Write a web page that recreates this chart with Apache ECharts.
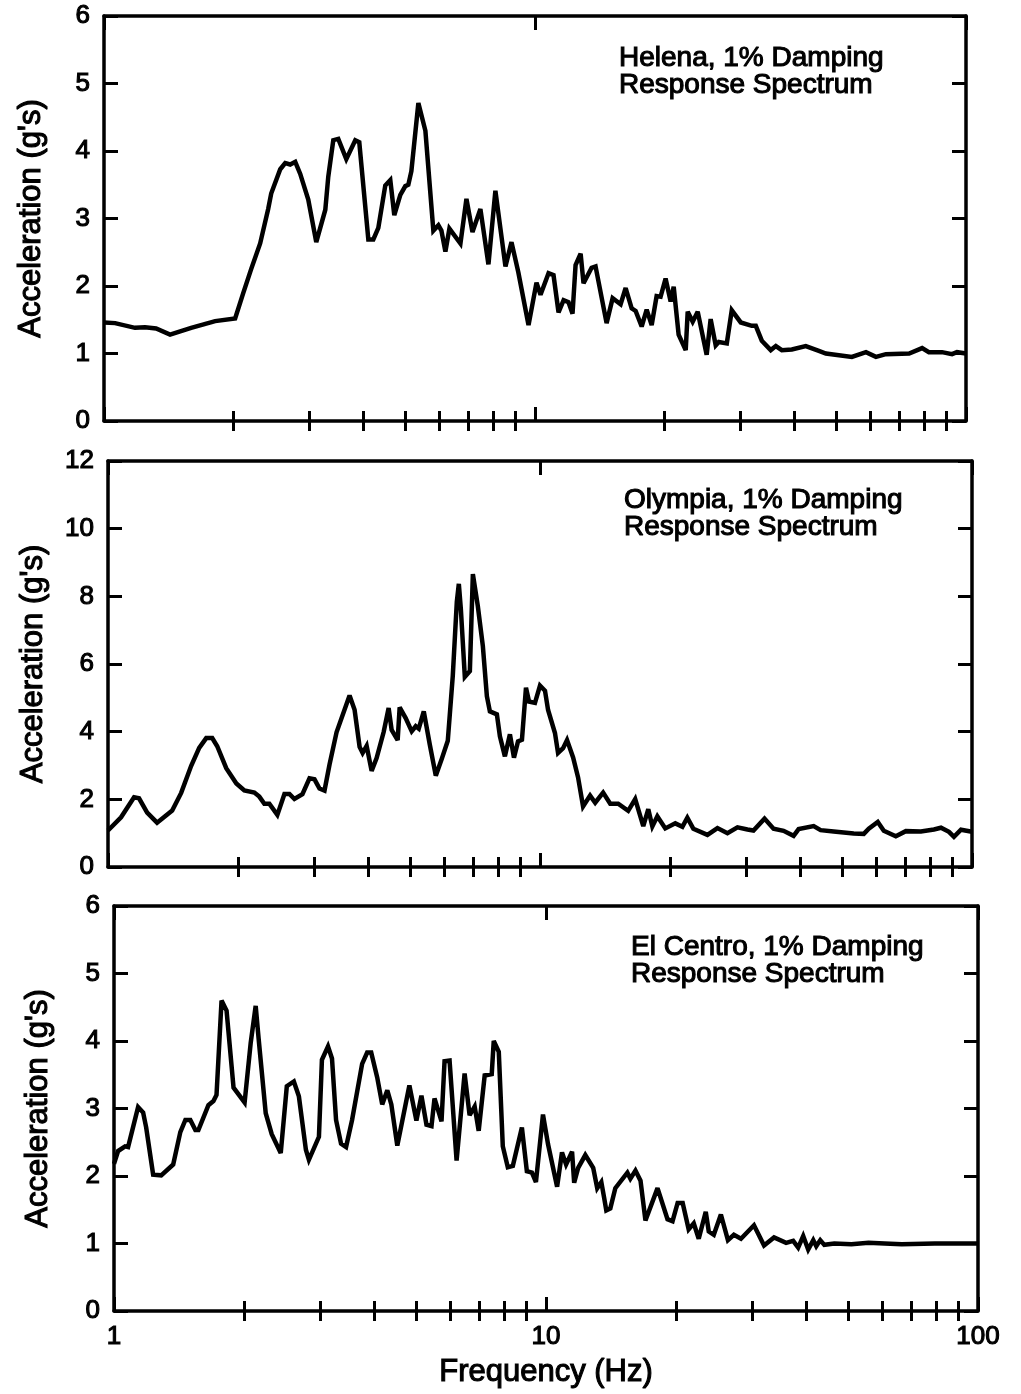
<!DOCTYPE html>
<html>
<head>
<meta charset="utf-8">
<script src="https://cdn.jsdelivr.net/npm/echarts@6/dist/echarts.min.js"></script>
<style>
  html, body { margin: 0; padding: 0; background: #fff; }
  #chart { width: 1021px; height: 1394px; }
</style>
</head>
<body>
<div id="chart"></div>
<script>
// Helena, 1% damping response spectrum: frequency (Hz) and spectral acceleration (g)
const helenaFreq = [1.0, 1.061, 1.18, 1.245, 1.321, 1.423, 1.593, 1.811, 2.015, 2.103,
  2.195, 2.303, 2.404, 2.443, 2.564, 2.633, 2.704, 2.778, 2.853, 2.978,
  3.108, 3.262, 3.314, 3.404, 3.496, 3.649, 3.828, 3.911, 4.105, 4.216,
  4.33, 4.494, 4.616, 4.716, 4.87, 5.002, 5.083, 5.166, 5.363, 5.568,
  5.81, 5.968, 6.065, 6.196, 6.33, 6.714, 6.933, 7.16, 7.47, 7.798,
  8.093, 8.54, 8.82, 9.15, 9.66, 10.08, 10.3, 10.75, 11.04, 11.34,
  11.65, 11.96, 12.22, 12.42, 12.76, 12.96, 13.53, 13.82, 14.66, 15.14,
  15.8, 16.23, 16.76, 17.12, 17.68, 18.16, 18.65, 19.15, 19.56, 20.09,
  20.64, 20.98, 21.54, 22.37, 22.61, 23.22, 23.85, 25.02, 25.56, 26.26,
  26.69, 27.86, 28.61, 30.02, 31.84, 32.53, 33.59, 35.24, 36.21, 37.38,
  39.43, 42.49, 45.56, 47.3, 54.35, 58.6, 61.8, 65.2, 73.8, 79.1,
  82.0, 88.0, 92.8, 95.3, 100];
const helenaAcc = [1.46, 1.45, 1.38, 1.39, 1.37, 1.28, 1.38, 1.48, 1.52, 1.89,
  2.25, 2.63, 3.14, 3.37, 3.73, 3.82, 3.80, 3.84, 3.66, 3.28,
  2.65, 3.13, 3.62, 4.16, 4.18, 3.88, 4.16, 4.13, 2.69, 2.69,
  2.86, 3.49, 3.57, 3.05, 3.35, 3.48, 3.50, 3.70, 4.71, 4.30,
  2.82, 2.90, 2.82, 2.51, 2.85, 2.63, 3.29, 2.80, 3.14, 2.32,
  3.41, 2.29, 2.65, 2.20, 1.42, 2.05, 1.87, 2.19, 2.16, 1.61,
  1.79, 1.76, 1.59, 2.31, 2.48, 2.04, 2.27, 2.29, 1.45, 1.82,
  1.73, 1.97, 1.67, 1.63, 1.40, 1.65, 1.42, 1.85, 1.84, 2.11,
  1.77, 1.99, 1.28, 1.05, 1.62, 1.47, 1.62, 0.98, 1.51, 1.12,
  1.17, 1.15, 1.64, 1.46, 1.41, 1.41, 1.19, 1.05, 1.11, 1.05,
  1.06, 1.11, 1.04, 1.00, 0.95, 1.02, 0.95, 0.99, 1.00, 1.08,
  1.02, 1.02, 0.99, 1.02, 1.00];

// Olympia, 1% damping response spectrum
const olympiaFreq = [1.0, 1.072, 1.149, 1.18, 1.232, 1.299, 1.408, 1.477, 1.558, 1.626,
  1.688, 1.743, 1.79, 1.878, 1.982, 2.068, 2.182, 2.24, 2.301, 2.363,
  2.466, 2.561, 2.63, 2.701, 2.819, 2.927, 3.006, 3.087, 3.171, 3.257,
  3.381, 3.624, 3.722, 3.823, 3.885, 3.969, 4.076, 4.186, 4.346, 4.463,
  4.535, 4.683, 4.733, 4.887, 5.047, 5.156, 5.24, 5.382, 5.557, 5.738,
  5.925, 6.117, 6.282, 6.419, 6.488, 6.558, 6.699, 6.881, 6.992, 7.179,
  7.374, 7.534, 7.656, 7.947, 8.076, 8.294, 8.519, 8.704, 8.894, 9.083,
  9.28, 9.431, 9.736, 10.0, 10.27, 10.44, 10.83, 11.01, 11.31, 11.55,
  11.93, 12.25, 12.58, 13.06, 13.42, 14.0, 14.54, 15.17, 16.0, 16.61,
  17.34, 17.81, 18.2, 18.69, 19.5, 20.57, 21.36, 21.93, 22.65, 24.41,
  25.75, 27.16, 28.65, 30.22, 31.2, 33.09, 34.72, 36.63, 38.64, 39.69,
  43.0, 44.63, 47.84, 53.23, 56.17, 57.68, 60.52, 62.49, 66.63, 70.29,
  76.16, 81.63, 84.75, 88.45, 90.84, 94.3, 100];
const olympiaAcc = [1.08, 1.47, 2.06, 2.03, 1.61, 1.31, 1.67, 2.19, 2.99, 3.52,
  3.81, 3.81, 3.57, 2.92, 2.47, 2.26, 2.20, 2.08, 1.87, 1.87,
  1.54, 2.16, 2.16, 2.01, 2.15, 2.62, 2.59, 2.32, 2.26, 3.03,
  3.98, 5.07, 4.65, 3.55, 3.37, 3.58, 2.84, 3.22, 3.99, 4.70,
  4.05, 3.75, 4.72, 4.40, 4.01, 4.16, 4.09, 4.60, 3.62, 2.70,
  3.20, 3.73, 5.65, 7.84, 8.37, 7.63, 5.62, 5.79, 8.66, 7.71,
  6.53, 5.05, 4.60, 4.51, 3.86, 3.27, 3.92, 3.23, 3.71, 3.76,
  5.30, 4.89, 4.85, 5.36, 5.21, 4.64, 3.96, 3.37, 3.51, 3.75,
  3.24, 2.65, 1.79, 2.11, 1.90, 2.20, 1.87, 1.87, 1.66, 2.01,
  1.21, 1.71, 1.20, 1.50, 1.14, 1.29, 1.19, 1.46, 1.13, 0.95,
  1.15, 1.00, 1.17, 1.11, 1.08, 1.43, 1.13, 1.07, 0.92, 1.12,
  1.21, 1.09, 1.05, 0.99, 0.98, 1.13, 1.33, 1.07, 0.91, 1.06,
  1.05, 1.11, 1.16, 1.04, 0.89, 1.10, 1.04];

// El Centro, 1% damping response spectrum
const elCentroFreq = [1.0, 1.022, 1.061, 1.078, 1.137, 1.168, 1.187, 1.232, 1.286, 1.371,
  1.424, 1.463, 1.502, 1.543, 1.568, 1.654, 1.699, 1.727, 1.774, 1.822,
  1.891, 2.006, 2.072, 2.128, 2.162, 2.245, 2.318, 2.432, 2.512, 2.608,
  2.679, 2.781, 2.826, 2.981, 3.029, 3.129, 3.196, 3.266, 3.354, 3.445,
  3.557, 3.753, 3.855, 3.939, 4.067, 4.177, 4.292, 4.385, 4.527, 4.828,
  5.012, 5.148, 5.288, 5.432, 5.52, 5.73, 5.823, 5.981, 6.209, 6.48,
  6.656, 6.837, 6.986, 7.212, 7.488, 7.569, 7.775, 7.943, 8.158, 8.38,
  8.794, 9.03, 9.278, 9.478, 9.84, 10.11, 10.61, 10.89, 11.13, 11.49,
  11.62, 11.87, 12.33, 12.86, 13.14, 13.43, 13.64, 13.79, 14.09, 14.47,
  15.43, 15.68, 16.11, 16.55, 16.99, 18.12, 19.11, 19.63, 20.17, 20.72,
  21.39, 21.98, 22.57, 23.43, 23.81, 24.46, 25.4, 26.37, 27.22, 28.27,
  30.3, 31.97, 33.72, 35.96, 37.34, 38.35, 39.39, 40.45, 41.56, 42.23,
  43.14, 44.08, 46.5, 50.93, 55.79, 60.76, 66.58, 79.43, 100];
const elCentroAcc = [2.18, 2.37, 2.44, 2.43, 3.02, 2.94, 2.72, 2.02, 2.01, 2.17,
  2.65, 2.83, 2.83, 2.68, 2.68, 3.05, 3.11, 3.20, 4.60, 4.45,
  3.31, 3.09, 3.97, 4.52, 4.03, 2.93, 2.62, 2.34, 3.33, 3.40,
  3.18, 2.39, 2.24, 2.58, 3.72, 3.92, 3.74, 2.83, 2.48, 2.43,
  2.83, 3.66, 3.83, 3.83, 3.46, 3.06, 3.27, 3.06, 2.45, 3.34,
  2.82, 3.19, 2.76, 2.74, 3.15, 2.81, 3.70, 3.71, 2.23, 3.52,
  2.90, 3.03, 2.67, 3.49, 3.51, 4.00, 3.84, 2.44, 2.13, 2.15,
  2.72, 2.07, 2.05, 1.91, 2.91, 2.47, 1.84, 2.35, 2.17, 2.36,
  1.90, 2.12, 2.31, 2.12, 1.82, 1.91, 1.67, 1.49, 1.52, 1.82,
  2.05, 1.96, 2.08, 1.93, 1.34, 1.82, 1.36, 1.33, 1.60, 1.60,
  1.21, 1.30, 1.07, 1.47, 1.18, 1.13, 1.43, 1.05, 1.13, 1.07,
  1.27, 0.97, 1.09, 1.01, 1.04, 0.94, 1.11, 0.91, 1.05, 0.96,
  1.05, 0.98, 1.00, 0.99, 1.01, 1.00, 0.99, 1.00, 1.00];

// Axis ticks and labels
const freqMajorTicks = [1, 10, 100];
const freqMinorTicks = [2, 3, 4, 5, 6, 7, 8, 9, 20, 30, 40, 50, 60, 70, 80, 90];
const accMax = [6, 12, 6];
const accStep = [1, 2, 1];
const panelLabels = [
  'Helena, 1% Damping\nResponse Spectrum',
  'Olympia, 1% Damping\nResponse Spectrum',
  'El Centro, 1% Damping\nResponse Spectrum'
];
const yName = "Acceleration (g's)";
const xName = 'Frequency (Hz)';

const spectra = [
  [helenaFreq, helenaAcc],
  [olympiaFreq, olympiaAcc],
  [elCentroFreq, elCentroAcc]
];

// Layout of the three stacked panels
const FONT = '"Liberation Sans", Arial, Helvetica, sans-serif';
const INK = '#000';
const panels = [
  { left: 104, top: 16, width: 862, height: 405, nameGap: 57, labelLeft: 619, labelTop: 45 },
  { left: 108, top: 461, width: 864, height: 406, nameGap: 59, labelLeft: 624, labelTop: 487 },
  { left: 114, top: 906, width: 864, height: 405, nameGap: 60, labelLeft: 631, labelTop: 934 }
];

const textBase = { color: INK, fontFamily: FONT, textBorderColor: INK, textBorderWidth: 1.1 };

const grid = [], xAxis = [], yAxis = [], series = [], title = [];

panels.forEach((p, i) => {
  grid.push({ left: p.left, top: p.top, width: p.width, height: p.height, containLabel: false });

  const logBase = {
    gridIndex: i, type: 'log', logBase: 10, min: 1, max: 100,
    splitLine: { show: false }, minorSplitLine: { show: false }
  };
  const majorTick = { show: true, inside: true, length: 14, customValues: freqMajorTicks,
    lineStyle: { color: INK, width: 3 } };
  const minorTick = { show: true, inside: true, length: 10, customValues: freqMinorTicks,
    lineStyle: { color: INK, width: 3 } };
  const frame = { show: true, onZero: false, lineStyle: { color: INK, width: 3.5 } };
  const isLast = i === panels.length - 1;

  // bottom axis: frame line, decade ticks, labels on the lowest panel only
  xAxis.push(Object.assign({}, logBase, {
    position: 'bottom', axisLine: frame, axisTick: majorTick,
    axisLabel: {
      show: isLast, customValues: freqMajorTicks, margin: 13, fontSize: 26,
      showMinLabel: true, showMaxLabel: true, ...textBase
    },
    name: isLast ? xName : '', nameLocation: 'middle', nameGap: 46,
    nameTextStyle: Object.assign({ fontSize: 31 }, textBase)
  }));
  // bottom axis: intermediate log ticks
  xAxis.push(Object.assign({}, logBase, {
    position: 'bottom', axisLine: { show: false }, axisTick: minorTick, axisLabel: { show: false }
  }));
  // top frame with the same ticks
  xAxis.push(Object.assign({}, logBase, {
    position: 'top', axisLine: frame, axisTick: majorTick, axisLabel: { show: false }
  }));
  xAxis.push(Object.assign({}, logBase, {
    position: 'top', axisLine: { show: false }, axisTick: minorTick, axisLabel: { show: false }
  }));

  const yBase = {
    gridIndex: i, type: 'value', min: 0, max: accMax[i], interval: accStep[i],
    splitLine: { show: false },
    axisLine: frame,
    axisTick: { show: true, inside: true, length: 14, lineStyle: { color: INK, width: 3 } }
  };
  yAxis.push(Object.assign({}, yBase, {
    position: 'left',
    axisLabel: Object.assign({ margin: 14, fontSize: 26 }, textBase),
    name: yName, nameLocation: 'middle', nameGap: p.nameGap,
    nameTextStyle: Object.assign({ fontSize: 31 }, textBase)
  }));
  yAxis.push(Object.assign({}, yBase, { position: 'right', axisLabel: { show: false } }));

  const [freq, acc] = spectra[i];
  series.push({
    type: 'line',
    xAxisIndex: i * 4,
    yAxisIndex: i * 2,
    data: freq.map((f, k) => [f, acc[k]]),
    showSymbol: false,
    symbol: 'none',
    smooth: false,
    clip: true,
    lineStyle: { color: INK, width: 4.5, join: 'miter', miterLimit: 3 }
  });

  title.push({
    text: panelLabels[i], left: p.labelLeft, top: p.labelTop, padding: 0,
    textStyle: Object.assign({ fontSize: 28, lineHeight: 27, fontWeight: 'normal' }, textBase)
  });
});

const chart = echarts.init(document.getElementById('chart'), null, { renderer: 'canvas' });
chart.setOption({
  animation: false,
  backgroundColor: '#fff',
  title, grid, xAxis, yAxis, series
});
</script>
</body>
</html>
